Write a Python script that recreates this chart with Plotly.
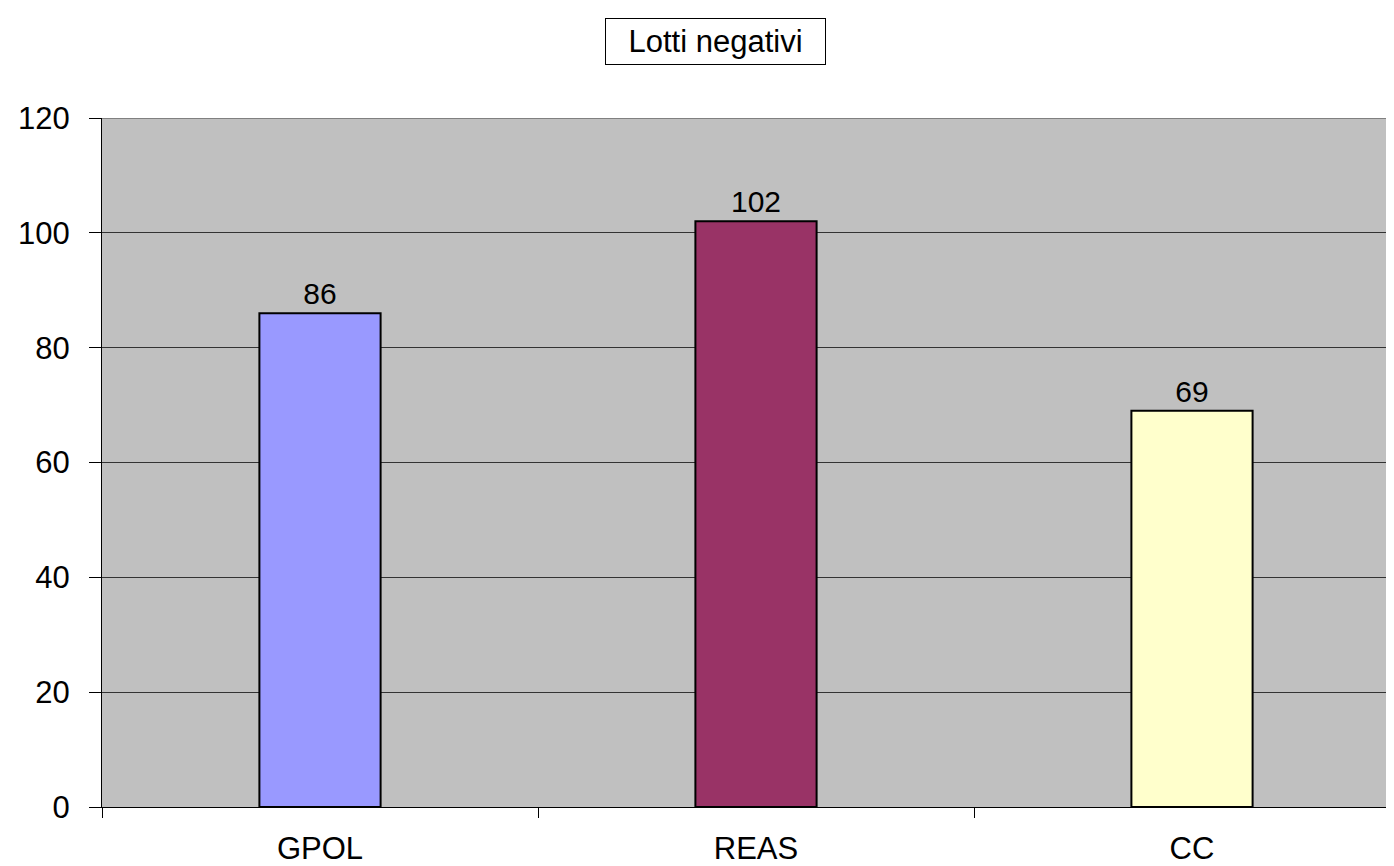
import plotly.graph_objects as go

categories = ["GPOL", "REAS", "CC"]
values = [86, 102, 69]
bar_colors = ["#9999FF", "#993366", "#FFFFCC"]
y_ticks = [0, 20, 40, 60, 80, 100, 120]
title_text = "Lotti negativi"

FONT = "Liberation Sans, Arial, sans-serif"

# page body has an 8px default margin; figure is sized to fit the window
W, H = 1386, 858
L, T, B = 94, 110, 50
plot_w = W - L
plot_h = H - T - B

fig = go.Figure()
fig.add_trace(go.Bar(
    x=categories, y=values,
    marker=dict(color=bar_colors, line=dict(color="black", width=2)),
    width=0.278,
    text=[str(v) for v in values],
    textposition="outside",
    textfont=dict(family=FONT, size=30, color="black"),
    cliponaxis=False,
))

fig.update_layout(
    width=W, height=H,
    margin=dict(l=L, r=0, t=T, b=B, pad=0),
    paper_bgcolor="white",
    plot_bgcolor="#C0C0C0",
    showlegend=False,
    xaxis=dict(
        type="category",
        range=[-0.5, -0.5 + plot_w / 436.0],
        showgrid=False,
        showline=True, linecolor="black", linewidth=1,
        ticks="outside", tickson="boundaries", ticklen=10, tickcolor="black", tickwidth=1,
        tickfont=dict(family=FONT, size=31, color="black"),
        ticklabelstandoff=14,
        zeroline=False,
    ),
    yaxis=dict(
        range=[0, 120],
        tickvals=y_ticks,
        showgrid=True, gridcolor="#333333", gridwidth=1,
        showline=True, linecolor="black", linewidth=1,
        ticks="outside", ticklen=12, tickcolor="black", tickwidth=1,
        tickfont=dict(family=FONT, size=31, color="black"),
        ticklabelstandoff=13,
        zeroline=False,
    ),
    shapes=[dict(type="line", xref="paper", yref="y", x0=0, x1=1, y0=120, y1=120,
                 line=dict(color="#808080", width=2), layer="above")],
    annotations=[dict(
        text=title_text, xref="paper", yref="paper",
        x=(715 - 8 - L) / plot_w, y=(800 - 24) / plot_h,
        xanchor="center", yanchor="middle", showarrow=False,
        font=dict(family=FONT, size=31, color="black"),
        bordercolor="black", borderwidth=1, borderpad=1,
        bgcolor="white", width=217, height=43,
    )],
)

fig.write_html("out.html")
